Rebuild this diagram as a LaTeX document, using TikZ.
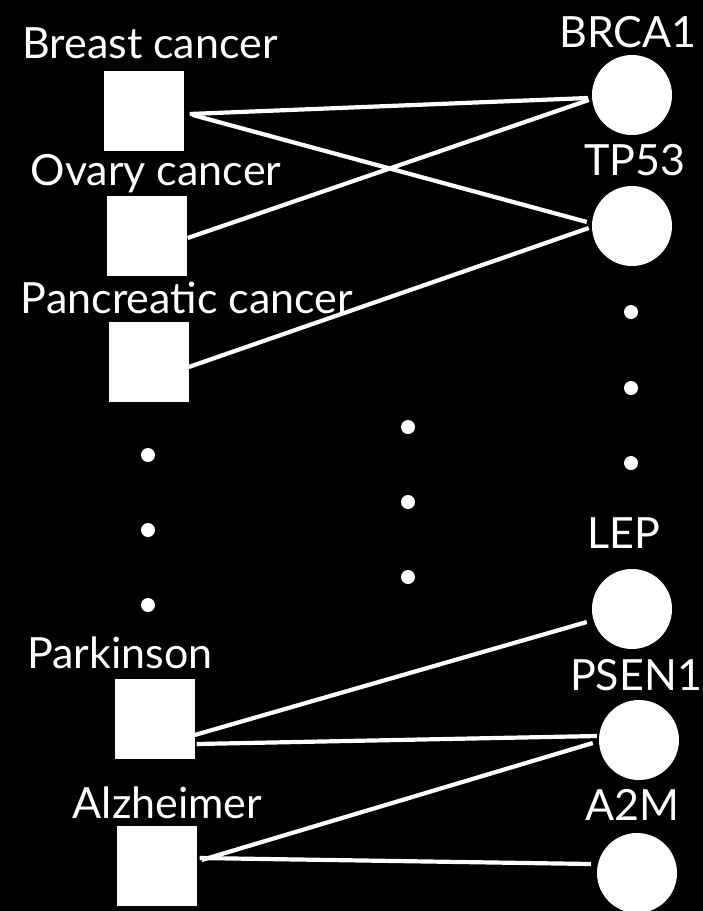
\documentclass[tikz,border=0pt]{standalone}
\usepackage{fontspec}
\setmainfont{Lato}
\begin{document}
\begin{tikzpicture}[x=1pt,y=-1pt,
  sq/.style={rectangle,fill=white,minimum size=80pt,inner sep=0pt},
  gene/.style={circle,fill=white,minimum size=80pt,inner sep=0pt},
  lbl/.style={text=white,anchor=base,inner sep=0pt,font=\fontsize{43}{43}\selectfont},
  dotn/.style={circle,fill=white,minimum size=14pt,inner sep=0pt},
  link/.style={draw=white,line width=4.2pt}]
\fill[black] (0,0) rectangle (703,911);
\useasboundingbox (0,0) rectangle (703,911);
% squares
\node[sq] (breast) at (143.5,111) {};
\node[sq] (ovary) at (146.5,236) {};
\node[sq] (panc) at (148.5,362) {};
\node[sq] (park) at (154.5,719) {};
\node[sq] (alz) at (156.5,866) {};
% circles
\node[gene] (brca) at (632,95) {};
\node[gene] (tp) at (632,226) {};
\node[gene] (lep) at (632,609) {};
\node[gene] (psen) at (639,740) {};
\node[gene] (a2m) at (637,873) {};
% labels
\node[lbl] (lbreast) at (150,58) {Breast cancer};
\node[lbl] (lovary) at (156,185) {Ovary cancer};
\node[lbl] (lpanc) at (187,313) {Pancreatic cancer};
\node[lbl] (lpark) at (120,668) {Parkinson};
\node[lbl] (lalz) at (167.5,818) {Alzheimer};
\node[lbl] (lbrca) at (628,47) {BRCA1};
\node[lbl] (ltp) at (635,175) {TP53};
\node[lbl] (llep) at (624,548) {LEP};
\node[lbl] (lpsen) at (636,690) {PSEN1};
\node[lbl] (la2m) at (632.5,820) {A2M};
% dots
\node[dotn] (d1) at (148,455) {};
\node[dotn] (d2) at (148,530) {};
\node[dotn] (d3) at (148,605) {};
\node[dotn] (d4) at (408,427) {};
\node[dotn] (d5) at (408,502) {};
\node[dotn] (d6) at (408,577) {};
\node[dotn] (d7) at (631,312) {};
\node[dotn] (d8) at (631,388) {};
\node[dotn] (d9) at (631,463) {};
% links
\draw[link] ([xshift=6pt,yshift=-3pt]breast.east) -- ([xshift=-4pt,yshift=-3pt]brca.west);
\draw[link] ([xshift=9pt,yshift=-4pt]breast.east) -- ([xshift=-5pt,yshift=4pt]tp.west);
\draw[link] ([xshift=1pt,yshift=-2pt]ovary.east) -- ([xshift=-3pt,yshift=-5pt]brca.west);
\draw[link] ([xshift=0pt,yshift=-5pt]panc.east) -- ([xshift=-3pt,yshift=-2pt]tp.west);
\draw[link] ([xshift=0pt,yshift=-16pt]park.east) -- ([xshift=-5pt,yshift=-13pt]lep.west);
\draw[link] ([xshift=2pt,yshift=-25pt]park.east) -- ([xshift=-2pt,yshift=4pt]psen.west);
\draw[link] ([xshift=5pt,yshift=6pt]alz.east) -- ([xshift=-6pt,yshift=-3pt]psen.west);
\draw[link] ([xshift=3pt,yshift=8pt]alz.east) -- ([xshift=-6pt,yshift=9pt]a2m.west);
\end{tikzpicture}
\end{document}
